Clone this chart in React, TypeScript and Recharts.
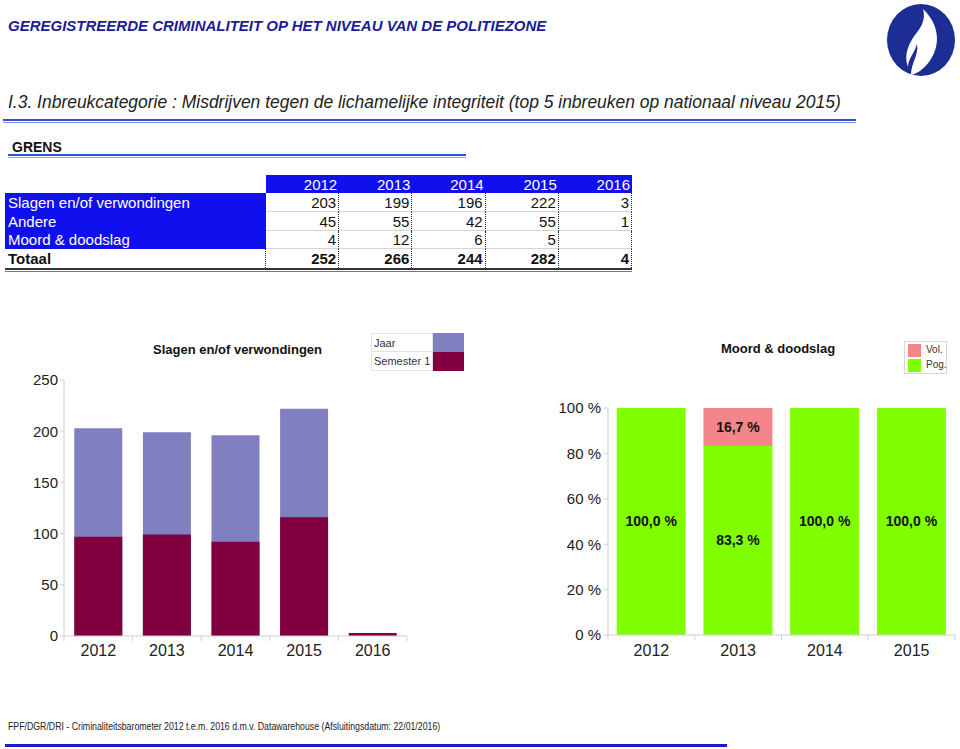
import React from 'react';
import { BarChart, Bar, XAxis, YAxis, LabelList } from 'recharts';

const tableYears = ['2012', '2013', '2014', '2015', '2016'];
const rowLabels = ['Slagen en/of verwondingen', 'Andere', 'Moord & doodslag'];
const slagenRow = [203, 199, 196, 222, 3];
const andereRow = [45, 55, 42, 55, 1];
const moordRow: (number | null)[] = [4, 12, 6, 5, null];
const totaalRow = [252, 266, 244, 282, 4];

const slagenYears = ['2012', '2013', '2014', '2015', '2016'];
const slagenJaar: (number | null)[] = [203, 199, 196, 222, null];
const slagenSem1 = [97, 99, 92, 116, 3];
const slagenTicks = [0, 50, 100, 150, 200, 250];

const moordYears = ['2012', '2013', '2014', '2015'];
const moordPog = [100, 83.3, 100, 100];
const moordVol = [0, 16.7, 0, 0];
const pctTicks = [0, 20, 40, 60, 80, 100];

const slagenData = slagenYears.map((y, i) => ({ year: y, jaar: slagenJaar[i], sem1: slagenSem1[i] }));
const moordData = moordYears.map((y, i) => ({ year: y, pog: moordPog[i], vol: moordVol[i] }));

const FONT = '"Liberation Sans", Arial, sans-serif';
const BLUE = '#1010ee';
const AXIS = '#cfcfd6';

const makeXTick = (band: number, fontSize: number, dy: number) => (props: any) => {
  const { x, y, payload, index, visibleTicksCount } = props;
  const y0 = y - 8;
  return (
    <g>
      <line x1={x - band / 2} y1={y0} x2={x - band / 2} y2={y0 + 5} stroke={AXIS} />
      {index === visibleTicksCount - 1 && (
        <line x1={x + band / 2} y1={y0} x2={x + band / 2} y2={y0 + 5} stroke={AXIS} />
      )}
      <text x={x} y={y + dy} textAnchor="middle" fontSize={fontSize} fill="#222" fontFamily={FONT}>
        {payload.value}
      </text>
    </g>
  );
};

const fmtPct = (v: any) => (v > 0 ? `${Number(v).toFixed(1).replace('.', ',')} %` : '');

const abs = (l: number, t: number, extra: React.CSSProperties = {}): React.CSSProperties => ({
  position: 'absolute',
  left: l,
  top: t,
  ...extra,
});

function Table() {
  const colEdges = [266, 339.2, 412.4, 485.6, 558.8, 632];
  const rowTops = [193, 212, 231, 249];
  const rowH = [19, 19, 18, 19];
  const rows = [slagenRow, andereRow, moordRow];
  const cells: React.ReactNode[] = [];
  cells.push(<div key="hbg" style={abs(266, 175, { width: 366, height: 18, background: BLUE })} />);
  tableYears.forEach((y, i) => {
    cells.push(
      <div key={'h' + i} style={abs(colEdges[i], 175, { width: colEdges[i + 1] - colEdges[i] - 2, height: 18, lineHeight: '19px', textAlign: 'right', color: '#fff', fontSize: 15 })}>
        {y}
      </div>
    );
  });
  rows.forEach((r, ri) => {
    cells.push(
      <div key={'l' + ri} style={abs(5, rowTops[ri], { width: 261, height: rowH[ri], background: BLUE, color: '#fff', fontSize: 15, lineHeight: rowH[ri] + 'px', paddingLeft: 3, boxSizing: 'border-box' })}>
        {rowLabels[ri]}
      </div>
    );
    r.forEach((v, ci) => {
      cells.push(
        <div key={'c' + ri + ci} style={abs(colEdges[ci], rowTops[ri], { width: colEdges[ci + 1] - colEdges[ci], height: rowH[ri], boxSizing: 'border-box', borderRight: '1px dotted #222', borderBottom: '1px solid #d4d4d4', textAlign: 'right', paddingRight: 2, fontSize: 15, lineHeight: rowH[ri] + 'px', color: '#111' })}>
          {v === null ? '' : v}
        </div>
      );
    });
  });
  cells.push(
    <div key="tl" style={abs(5, 249, { width: 261, height: 19, boxSizing: 'border-box', borderRight: '1px dotted #222', fontSize: 15, fontWeight: 'bold', lineHeight: '19px', paddingLeft: 3, color: '#111' })}>
      Totaal
    </div>
  );
  totaalRow.forEach((v, ci) => {
    cells.push(
      <div key={'t' + ci} style={abs(colEdges[ci], 249, { width: colEdges[ci + 1] - colEdges[ci], height: 19, boxSizing: 'border-box', borderRight: '1px dotted #222', textAlign: 'right', paddingRight: 2, fontSize: 15, fontWeight: 'bold', lineHeight: '19px', color: '#111' })}>
        {v}
      </div>
    );
  });
  cells.push(<div key="tb1" style={abs(5, 268, { width: 627, height: 2, background: '#333' })} />);
  cells.push(<div key="tb2" style={abs(5, 271, { width: 627, height: 1, background: '#777' })} />);
  return <>{cells}</>;
}

function Logo() {
  return (
    <svg style={abs(886, 3)} width={72} height={75} viewBox="886 3 72 75">
      <ellipse cx={921} cy={40} rx={34} ry={36} fill="#1c2d93" />
      <path
        d="M 923 9 C 940 25, 941 46, 929 62 C 923 70, 916 74, 911 75 C 911 63, 919 55, 917 44 C 914 54, 908 59, 908 67 C 903 55, 909 42, 918 31 C 924 23, 925 16, 923 9 Z"
        fill="#fff"
      />
    </svg>
  );
}

export default function App() {
  const leftBand = (407 - 64) / 5;
  const rightBand = (955 - 608) / 4;
  return (
    <div style={{ position: 'absolute', left: 0, top: 0, width: 960, height: 749, background: '#fff', fontFamily: FONT, overflow: 'hidden' }}>
      <div style={abs(8, 17, { fontSize: 15, fontWeight: 'bold', fontStyle: 'italic', color: '#1c1c94', whiteSpace: 'nowrap' })}>
        GEREGISTREERDE CRIMINALITEIT OP HET NIVEAU VAN DE POLITIEZONE
      </div>
      <Logo />
      <div style={abs(8, 92, { fontSize: 18, fontStyle: 'italic', color: '#222', whiteSpace: 'nowrap', transform: 'scaleX(0.97)', transformOrigin: 'left' })}>
        I.3. Inbreukcategorie : Misdrijven tegen de lichamelijke integriteit (top 5 inbreuken op nationaal niveau 2015)
      </div>
      <div style={abs(3, 119, { width: 853, height: 2, background: '#3a4fd0' })} />
      <div style={abs(3, 122, { width: 853, height: 1, background: '#7f8fe0' })} />
      <div style={abs(12, 139, { fontSize: 14, fontWeight: 'bold', color: '#111' })}>GRENS</div>
      <div style={abs(8, 154, { width: 458, height: 2, background: '#3a4fd0' })} />
      <div style={abs(8, 157, { width: 458, height: 1, background: '#9aa6e6' })} />

      <Table />

      {/* Left chart */}
      <div style={abs(0, 320)}>
        <BarChart width={440} height={360} data={slagenData} margin={{ top: 60, right: 33, bottom: 14, left: 14 }} barCategoryGap="15%">
          <XAxis xAxisId="a" dataKey="year" stroke={AXIS} tickLine={false} height={30} tick={makeXTick(leftBand, 16, 12)} interval={0} />
          <XAxis xAxisId="b" dataKey="year" hide />
          <YAxis domain={[0, 250]} ticks={slagenTicks} width={50} stroke={AXIS} tickSize={4} tickMargin={2} tick={{ fill: '#222', fontSize: 15, fontFamily: FONT }} />
          <Bar xAxisId="a" dataKey="jaar" fill="#8080c0" isAnimationActive={false} />
          <Bar xAxisId="b" dataKey="sem1" fill="#800040" isAnimationActive={false} />
        </BarChart>
      </div>
      <div style={abs(153, 342, { fontSize: 13, fontWeight: 'bold', color: '#111', whiteSpace: 'nowrap' })}>Slagen en/of verwondingen</div>
      <div style={abs(371, 333, { width: 62, height: 19, boxSizing: 'border-box', border: '1px solid #e2e2e2', fontSize: 11, color: '#333', lineHeight: '18px', paddingLeft: 2 })}>Jaar</div>
      <div style={abs(371, 352, { width: 62, height: 19, boxSizing: 'border-box', border: '1px solid #e2e2e2', borderTop: 'none', fontSize: 11, color: '#333', lineHeight: '18px', paddingLeft: 2 })}>Semester 1</div>
      <div style={abs(433, 333, { width: 31, height: 19, background: '#8080c0' })} />
      <div style={abs(433, 352, { width: 31, height: 19, background: '#800040' })} />

      {/* Right chart */}
      <div style={abs(480, 320)}>
        <BarChart width={480} height={360} data={moordData} margin={{ top: 88, right: 5, bottom: 15, left: 68 }} barCategoryGap="10%">
          <XAxis dataKey="year" stroke={AXIS} tickLine={false} height={30} tick={makeXTick(rightBand, 16, 13)} interval={0} />
          <YAxis domain={[0, 100]} ticks={pctTicks} width={60} stroke={AXIS} tickSize={4} tickMargin={3} tickFormatter={(v: number) => `${v} %`} tick={{ fill: '#222', fontSize: 15, fontFamily: FONT }} />
          <Bar dataKey="pog" stackId="s" fill="#80ff00" isAnimationActive={false}>
            <LabelList dataKey="pog" position="center" formatter={fmtPct} fill="#111" fontSize={14} fontWeight="bold" fontFamily={FONT} />
          </Bar>
          <Bar dataKey="vol" stackId="s" fill="#f4858a" isAnimationActive={false}>
            <LabelList dataKey="vol" position="center" formatter={fmtPct} fill="#111" fontSize={14} fontWeight="bold" fontFamily={FONT} />
          </Bar>
        </BarChart>
      </div>
      <div style={abs(721, 341, { fontSize: 13, fontWeight: 'bold', color: '#111', whiteSpace: 'nowrap' })}>Moord &amp; doodslag</div>
      <div style={abs(904, 341, { width: 43, height: 33, boxSizing: 'border-box', border: '1px solid #d8d8d8' })} />
      <div style={abs(907.5, 343.5, { width: 13, height: 13, background: '#f4858a' })} />
      <div style={abs(907.5, 359, { width: 13, height: 13, background: '#80ff00' })} />
      <div style={abs(926, 343, { fontSize: 10, color: '#333', lineHeight: '14px' })}>Vol.</div>
      <div style={abs(926, 358, { fontSize: 10, color: '#333', lineHeight: '14px' })}>Pog.</div>

      <div style={abs(8, 721, { fontSize: 10, color: '#222', whiteSpace: 'nowrap', transform: 'scaleX(0.875)', transformOrigin: 'left' })}>
        FPF/DGR/DRI - Criminaliteitsbarometer 2012 t.e.m. 2016 d.m.v. Datawarehouse (Afsluitingsdatum: 22/01/2016)
      </div>
      <div style={abs(5, 744, { width: 722, height: 3, background: '#1a1ad0' })} />
    </div>
  );
}
